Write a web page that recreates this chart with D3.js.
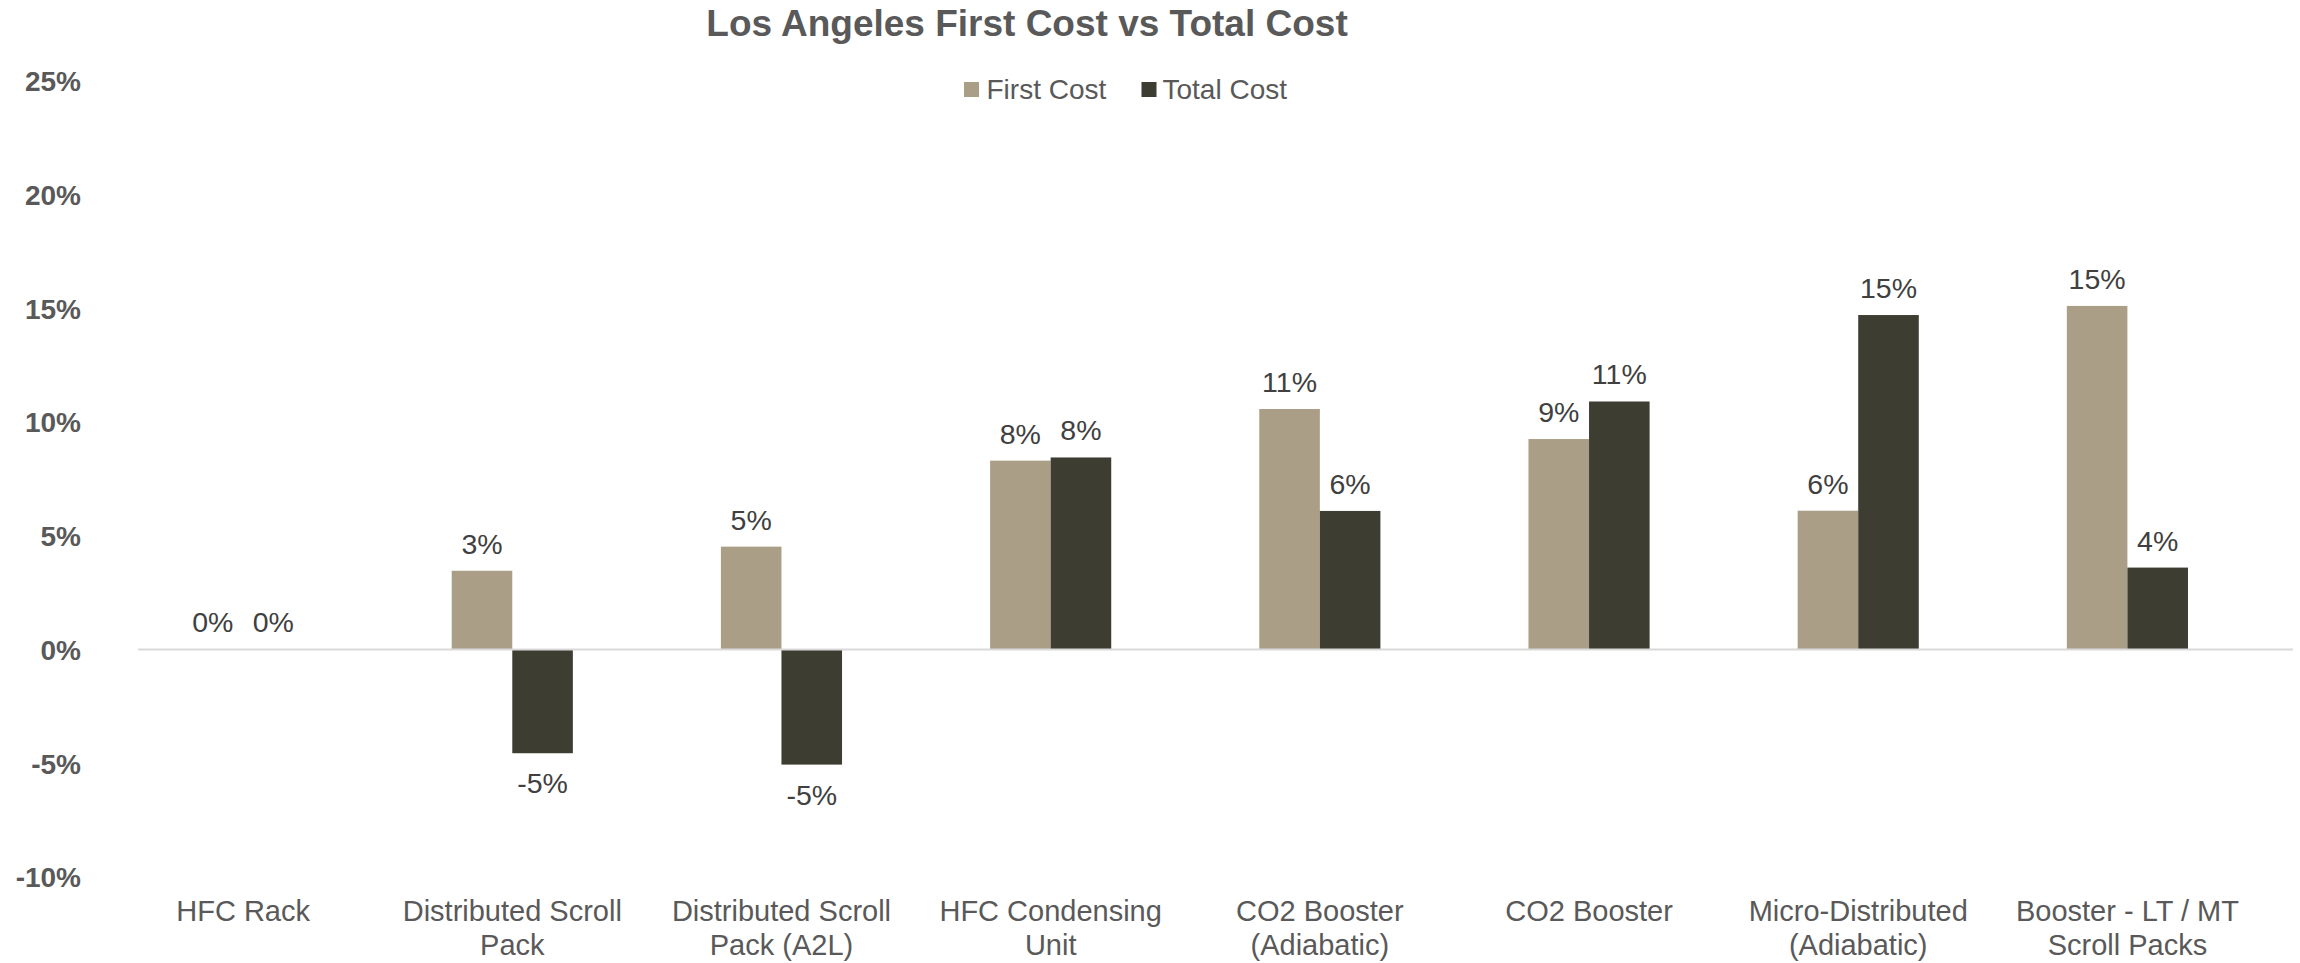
<!DOCTYPE html>
<html>
<head>
<meta charset="utf-8">
<script src="https://cdn.jsdelivr.net/npm/d3@7"></script>
<style>
  html, body { margin: 0; padding: 0; background: #ffffff; }
  svg { display: block; font-family: "Liberation Sans", Arial, sans-serif; }
</style>
</head>
<body>
<svg id="chart" width="2300" height="963"></svg>
<script>
const categories = [
  ["HFC Rack"],
  ["Distributed Scroll", "Pack"],
  ["Distributed Scroll", "Pack (A2L)"],
  ["HFC Condensing", "Unit"],
  ["CO2 Booster", "(Adiabatic)"],
  ["CO2 Booster"],
  ["Micro-Distributed", "(Adiabatic)"],
  ["Booster - LT / MT", "Scroll Packs"]
];
const seriesNames = ["First Cost", "Total Cost"];
const firstCost = [0.000, 0.0346, 0.0452, 0.0830, 0.1057, 0.0925, 0.0610, 0.1510];
const totalCost = [0.000, -0.0456, -0.0506, 0.0844, 0.0609, 0.1090, 0.1470, 0.0360];
const yTicks = [-0.10, -0.05, 0, 0.05, 0.10, 0.15, 0.20, 0.25];
const colors = ["#ab9e86", "#3d3d31"];
const title = "Los Angeles First Cost vs Total Cost";

const svg = d3.select("#chart");
const catKeys = categories.map(c => c.join(" "));

const x0 = d3.scaleBand().domain(catKeys).range([108.5, 2262])
  .paddingInner(0.55).paddingOuter(0.275);
const x1 = d3.scaleBand().domain(seriesNames).range([0, x0.bandwidth()]);
const y = d3.scaleLinear().domain([-0.10, 0.25]).range([877, 80.7]);

const loc = d3.formatLocale({decimal: ".", thousands: ",", grouping: [3], currency: ["$", ""], minus: "-"});
const pct = loc.format(".0%");

// Title
svg.append("text")
  .attr("x", 1027).attr("y", 36)
  .attr("text-anchor", "middle")
  .attr("font-size", 37).attr("font-weight", "bold")
  .attr("fill", "#595959")
  .text(title);

// Legend
const legendPos = [{sx: 964, tx: 986.5}, {sx: 1141.5, tx: 1162.5}];
seriesNames.forEach((s, i) => {
  svg.append("rect").attr("x", legendPos[i].sx).attr("y", 82)
    .attr("width", 15).attr("height", 15).attr("fill", colors[i]);
  svg.append("text").attr("x", legendPos[i].tx).attr("y", 98.5)
    .attr("font-size", 28).attr("fill", "#595959").text(s);
});

// Y axis labels
const yAxis = d3.axisLeft(y).tickValues(yTicks).tickSize(0).tickPadding(0)
  .tickFormat(d => pct(d));
const gy = svg.append("g").attr("transform", "translate(81,0)").call(yAxis);
gy.select(".domain").remove();
gy.selectAll("text")
  .attr("font-size", 28).attr("font-weight", "bold")
  .attr("fill", "#595959").attr("font-family", "Liberation Sans, Arial, sans-serif")
  .attr("dy", "0.35em");

// Bars
const data = categories.map((c, i) => ({key: catKeys[i], vals: [firstCost[i], totalCost[i]]}));
const groups = svg.append("g").selectAll("g").data(data).join("g")
  .attr("transform", d => `translate(${x0(d.key)},0)`);

groups.selectAll("rect").data(d => d.vals.map((v, j) => ({s: seriesNames[j], v, j})))
  .join("rect")
  .attr("x", d => x1(d.s))
  .attr("width", x1.bandwidth())
  .attr("y", d => Math.min(y(d.v), y(0)))
  .attr("height", d => Math.abs(y(d.v) - y(0)))
  .attr("fill", d => colors[d.j]);

// Zero axis line
svg.append("line")
  .attr("x1", 138).attr("x2", 2293)
  .attr("y1", y(0)).attr("y2", y(0))
  .attr("stroke", "#d9d9d9").attr("stroke-width", 2);

// Data labels
groups.selectAll("text.lbl").data(d => d.vals.map((v, j) => ({s: seriesNames[j], v, j})))
  .join("text")
  .attr("class", "lbl")
  .attr("x", d => x1(d.s) + x1.bandwidth() / 2)
  .attr("y", d => d.v >= 0 ? y(d.v) - 17 : y(d.v) + 40)
  .attr("text-anchor", "middle")
  .attr("font-size", 28.5)
  .attr("fill", "#404040")
  .text(d => pct(d.v));

// Category labels
const xAxis = d3.axisBottom(x0).tickSize(0).tickFormat("");
const gx = svg.append("g").attr("transform", "translate(0,877)").call(xAxis);
gx.select(".domain").remove();
gx.selectAll(".tick").each(function(d, i) {
  const t = d3.select(this).append("text")
    .attr("text-anchor", "middle")
    .attr("font-size", 29)
    .attr("fill", "#595959");
  categories[i].forEach((line, k) => {
    t.append("tspan").attr("x", 0).attr("y", 44 + k * 34).text(line);
  });
});
</script>
</body>
</html>
